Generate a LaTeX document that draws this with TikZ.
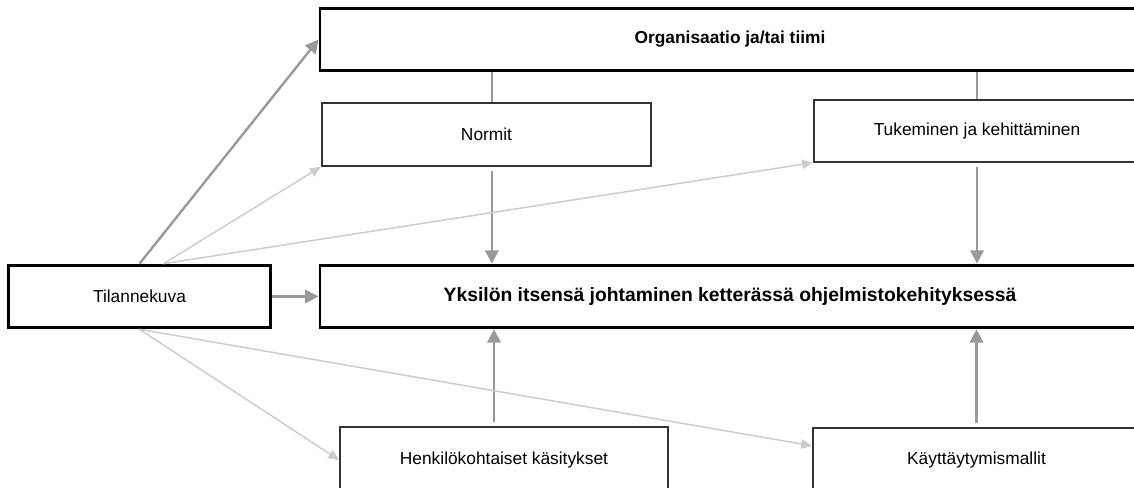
\documentclass[tikz,border=0pt]{standalone}
\usepackage{fontspec}
\setmainfont{Liberation Sans}
\usepackage{tikz}
\usetikzlibrary{arrows.meta, positioning}

\begin{document}
\begin{tikzpicture}[x=0.75pt, y=-0.75pt, font=\fontsize{13}{15}\selectfont,
    box/.style={rectangle, draw=black!80, line width=1.5pt, fill=white, inner sep=0pt},
    mainbox/.style={box, draw=black, line width=2.2pt},
    heavy/.style={draw=black!40, line width=1.8pt, -{Triangle[length=10pt, width=10pt]}},
    faint/.style={draw=black!20, line width=1.1pt, -{Triangle[length=8pt, width=7pt]}},
    link/.style={draw=black!40, line width=1.8pt}]
    \useasboundingbox (0,0) rectangle (1134,488);
    \clip (0,0) rectangle (1134,488);

    \node (org) [mainbox, minimum width=615pt, minimum height=47pt] at (730,39.5) {\textbf{Organisaatio ja/tai tiimi}};
    \node (normit) [box, minimum width=247pt, minimum height=47pt] at (486.5,134.5) {Normit};
    \node (tuki) [box, minimum width=245pt, minimum height=46pt] at (977,131) {Tukeminen ja kehittäminen};
    \node (tila) [mainbox, minimum width=197pt, minimum height=47pt] at (139.5,296.5) {Tilannekuva};
    \node (yks) [mainbox, minimum width=615pt, minimum height=47pt] at (730,296.5) {\fontsize{14.5}{17}\selectfont\textbf{Yksilön itsensä johtaminen ketterässä ohjelmistokehityksessä}};
    \node (henk) [box, minimum width=246pt, minimum height=49pt] at (504,460) {Henkilökohtaiset käsitykset};
    \node (kayt) [box, minimum width=245pt, minimum height=49pt] at (976.5,460.5) {Käyttäytymismallit};

    % organisaatio
    \draw [link] ([xshift=4pt]normit.north) -- ([xshift=4pt]normit.north |- org.south);
    \draw [link] (tuki.north) -- (tuki.north |- org.south);
    \draw [heavy, shorten <=3pt] ([xshift=4pt]normit.south) -- ([xshift=4pt]normit.south |- yks.north);
    \draw [heavy, shorten <=3pt] (tuki.south) -- (tuki.south |- yks.north);

    % yksilo
    \draw [heavy, shorten <=3pt] ([xshift=-7.5pt]henk.north) -- ([xshift=-7.5pt]henk.north |- yks.south);
    \draw [heavy, shorten <=3pt] (kayt.north) -- (kayt.north |- yks.south);

    % tilannekuva
    \draw [heavy] (tila.north) -- (org.west);
    \draw [heavy] (tila.east) -- (yks.west);
    \draw [faint] ([xshift=18pt]tila.north) -- (normit.south west);
    \draw [faint] ([xshift=18pt]tila.north) -- (tuki.south west);
    \draw [faint] (tila.south) -- (henk.west);
    \draw [faint] (tila.south) -- ([yshift=11pt]kayt.west);
\end{tikzpicture}
\end{document}
